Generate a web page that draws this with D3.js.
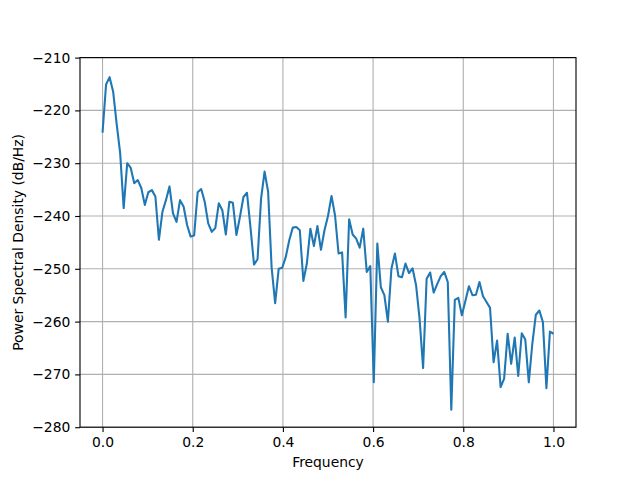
<!DOCTYPE html>
<html>
<head>
<meta charset="utf-8">
<script src="https://cdn.jsdelivr.net/npm/d3@7"></script>
<style>
  html, body { margin: 0; padding: 0; background: #fff; }
  svg { display: block; font-family: "DejaVu Sans", sans-serif; }
</style>
</head>
<body>
<svg id="chart" width="640" height="480"></svg>
<script>
// PSD values (dB/Hz), 129 evenly spaced frequency bins from 0 to 1
const psdValues = [
  -224.2, -215.1, -213.7, -216.4, -222.5, -228.1, -238.5, -230.0, -230.9, -233.8,
  -233.2, -234.7, -237.9, -235.5, -235.1, -236.3, -244.5, -239.2, -237.0, -234.4,
  -239.5, -241.1, -237.0, -238.2, -241.7, -243.9, -243.7, -235.5, -234.9, -237.3,
  -241.4, -243.0, -242.3, -237.6, -238.9, -243.5, -237.3, -237.5, -243.6, -240.2,
  -236.4, -235.6, -242.2, -249.2, -248.2, -236.7, -231.6, -235.4, -249.8, -256.5,
  -250.0, -249.8, -247.8, -244.6, -242.2, -242.1, -242.7, -252.3, -249.0, -242.4,
  -245.7, -241.9, -246.4, -242.7, -240.0, -236.2, -239.9, -247.1, -246.9, -259.2,
  -240.6, -243.5, -244.3, -246.0, -242.4, -250.6, -249.5, -271.5, -245.2, -253.5,
  -255.0, -260.0, -250.0, -247.1, -251.4, -251.6, -249.0, -250.8, -249.9, -253.1,
  -259.5, -268.8, -251.9, -250.7, -254.5, -252.9, -251.4, -250.6, -252.5, -276.7,
  -255.9, -255.5, -258.8, -256.1, -253.3, -255.0, -254.9, -252.5, -255.2, -256.3,
  -257.4, -267.7, -263.6, -272.4, -270.8, -262.3, -268.0, -263.0, -270.3, -262.2,
  -263.4, -271.5, -264.2, -258.7, -257.9, -260.1, -272.6, -261.9, -262.3
];
const freqStart = 0;
const freqEnd = 1;
const xTickValues = [0.0, 0.2, 0.4, 0.6, 0.8, 1.0];
const yTickValues = [-280, -270, -260, -250, -240, -230, -220, -210];
const xLabel = "Frequency";
const yLabel = "Power Spectral Density (dB/Hz)";

(function () {
  const n = psdValues.length;
  const data = psdValues.map((v, i) => ({ f: freqStart + (freqEnd - freqStart) * i / (n - 1), v }));

  const pLeft = 80, pRight = 576, pTop = 57.6, pBottom = 427.2;
  const pt = 100 / 72;

  const svg = d3.select("#chart");

  const xSpan = freqEnd - freqStart;
  const x = d3.scaleLinear()
    .domain([freqStart - 0.05 * xSpan, freqEnd + 0.05 * xSpan])
    .range([pLeft, pRight]);
  const y = d3.scaleLinear()
    .domain([-280, -210])
    .range([pBottom, pTop]);

  // Grid
  const grid = svg.append("g");
  grid.selectAll("line.gx").data(xTickValues).join("line").attr("class", "gx")
    .attr("x1", d => x(d)).attr("x2", d => x(d))
    .attr("y1", pTop).attr("y2", pBottom)
    .attr("stroke", "#b0b0b0").attr("stroke-width", 0.8 * pt);
  grid.selectAll("line.gy").data(yTickValues).join("line").attr("class", "gy")
    .attr("y1", d => y(d)).attr("y2", d => y(d))
    .attr("x1", pLeft).attr("x2", pRight)
    .attr("stroke", "#b0b0b0").attr("stroke-width", 0.8 * pt);

  // Line
  svg.append("defs").append("clipPath").attr("id", "clip")
    .append("rect").attr("x", pLeft).attr("y", pTop)
    .attr("width", pRight - pLeft).attr("height", pBottom - pTop);

  const line = d3.line().x(d => x(d.f)).y(d => y(d.v));
  svg.append("path")
    .datum(data)
    .attr("clip-path", "url(#clip)")
    .attr("fill", "none")
    .attr("stroke", "#1f77b4")
    .attr("stroke-width", 1.5 * pt)
    .attr("stroke-linejoin", "round")
    .attr("stroke-linecap", "butt")
    .attr("d", line);

  // Axes
  const tickLen = 3.5 * pt, tickPad = 3.5 * pt, fs = 10 * pt;
  const xAxis = d3.axisBottom(x).tickValues(xTickValues)
    .tickFormat(d3.format(".1f")).tickSizeInner(tickLen).tickSizeOuter(0).tickPadding(tickPad);
  const yAxis = d3.axisLeft(y).tickValues(yTickValues)
    .tickFormat(d3.format("d")).tickSizeInner(tickLen).tickSizeOuter(0).tickPadding(tickPad);

  const gx = svg.append("g").attr("transform", `translate(0,${pBottom})`).call(xAxis);
  const gy = svg.append("g").attr("transform", `translate(${pLeft},0)`).call(yAxis);
  [gx, gy].forEach(g => {
    g.select(".domain").remove();
    g.selectAll(".tick line").attr("stroke", "#000").attr("stroke-width", 0.8 * pt);
    g.selectAll(".tick text").attr("fill", "#000")
      .style("font-family", "'DejaVu Sans', sans-serif").style("font-size", fs + "px");
  });

  // Spines
  svg.append("rect")
    .attr("x", pLeft).attr("y", pTop)
    .attr("width", pRight - pLeft).attr("height", pBottom - pTop)
    .attr("fill", "none").attr("stroke", "#000").attr("stroke-width", 0.8 * pt);

  // Labels
  svg.append("text")
    .attr("x", (pLeft + pRight) / 2).attr("y", 467)
    .attr("text-anchor", "middle")
    .style("font-size", fs + "px")
    .text(xLabel);
  svg.append("text")
    .attr("transform", `translate(23,${(pTop + pBottom) / 2}) rotate(-90)`)
    .attr("text-anchor", "middle")
    .style("font-size", fs + "px")
    .text(yLabel);
})();
</script>
</body>
</html>
